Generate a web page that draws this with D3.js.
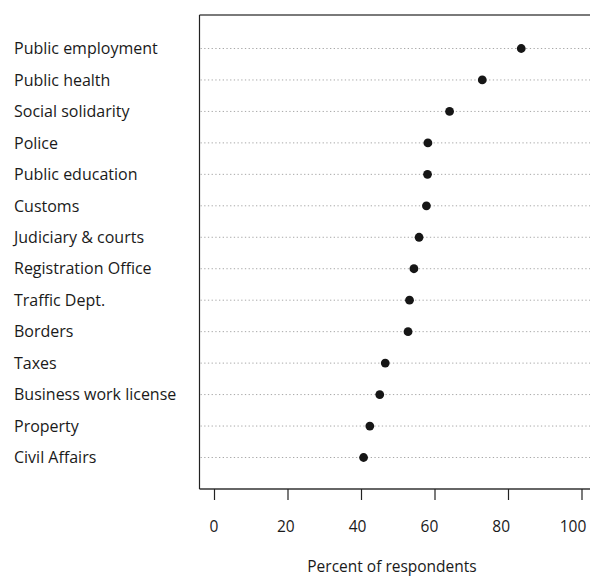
<!DOCTYPE html>
<html>
<head>
<meta charset="utf-8">
<script src="https://cdn.jsdelivr.net/npm/d3@7"></script>
<style>
  html, body { margin: 0; padding: 0; background: #fff; }
  svg { display: block; }
  text { font-family: "Open Sans", "Noto Sans", sans-serif; fill: #1a1a1a; }
</style>
</head>
<body>
<svg id="chart" width="590" height="576"></svg>
<script>
// Agencies, top to bottom
const categories = [
  "Public employment", "Public health", "Social solidarity", "Police",
  "Public education", "Customs", "Judiciary & courts", "Registration Office",
  "Traffic Dept.", "Borders", "Taxes", "Business work license",
  "Property", "Civil Affairs"
];
// Percent of respondents for each agency
const percents = [83.6, 73.0, 64.1, 58.2, 58.1, 57.8, 55.8, 54.4, 53.2, 52.8, 46.6, 45.1, 42.4, 40.7];
const xTicks = [0, 20, 40, 60, 80, 100];
const xTitle = "Percent of respondents";

const svg = d3.select("#chart");
const box = { left: 199.5, top: 15, right: 600, bottom: 489 };

const x = d3.scaleLinear().domain([0, 100]).range([214, 581.5]);
// tick labels sit on a slightly tighter spacing than the tick marks
const xLabel = d3.scaleLinear().domain([0, 100]).range([214, 573]);
const y = d3.scalePoint().domain(categories).range([48.5, 457.5]);

// Plot frame
svg.append("line").attr("x1", box.left).attr("x2", box.right)
  .attr("y1", box.top).attr("y2", box.top)
  .attr("stroke", "#7a7a7a").attr("stroke-width", 2);
svg.append("line").attr("x1", box.left).attr("x2", box.right)
  .attr("y1", box.bottom).attr("y2", box.bottom)
  .attr("stroke", "#333").attr("stroke-width", 1.5);
svg.append("line").attr("x1", box.left).attr("x2", box.left)
  .attr("y1", box.top).attr("y2", box.bottom)
  .attr("stroke", "#222").attr("stroke-width", 1.2);

// Dotted guide lines
svg.append("g").selectAll("line").data(categories).join("line")
  .attr("x1", box.left + 1).attr("x2", 590)
  .attr("y1", d => y(d)).attr("y2", d => y(d))
  .attr("stroke", "#a8a8a8").attr("stroke-width", 1)
  .attr("stroke-dasharray", "1.3,2.4");

// Category labels
svg.append("g").selectAll("text").data(categories).join("text")
  .attr("x", 14).attr("y", d => y(d)).attr("dy", "0.36em")
  .attr("font-size", 16).text(d => d);

// Points
svg.append("g").selectAll("circle").data(categories).join("circle")
  .attr("cx", (d, i) => x(percents[i])).attr("cy", d => y(d))
  .attr("r", 4.4).attr("fill", "#161616");

// X axis tick marks
const axis = d3.axisBottom(x).tickValues(xTicks).tickSize(11).tickFormat("");
const gx = svg.append("g").attr("transform", `translate(0,${box.bottom})`).call(axis);
gx.select(".domain").remove();
gx.selectAll(".tick line").attr("stroke", "#222").attr("stroke-width", 1.2);

// X axis tick labels
svg.append("g").selectAll("text").data(xTicks).join("text")
  .attr("x", d => xLabel(d)).attr("y", 531.5)
  .attr("text-anchor", "middle").attr("font-size", 15.5)
  .text(d3.format("d"));

svg.append("text").attr("x", 392).attr("y", 571.5)
  .attr("text-anchor", "middle").attr("font-size", 15.5).text(xTitle);
</script>
</body>
</html>
